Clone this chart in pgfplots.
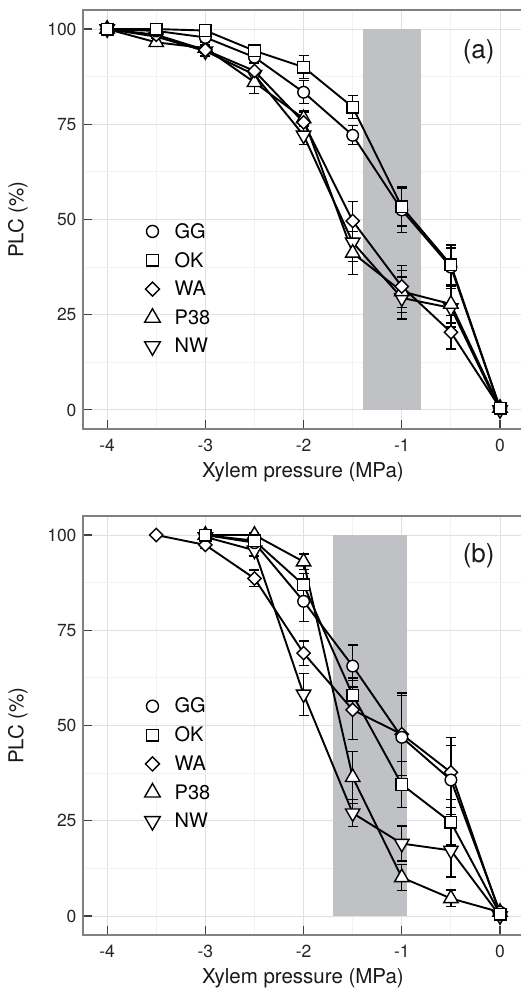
\documentclass[border=0pt]{standalone}
\usepackage{fontspec}
\setmainfont{TeX Gyre Heros}
\usepackage{pgfplots}
\pgfplotsset{compat=1.18}
\usepackage{pgfplotstable}

\definecolor{shade}{RGB}{192,193,196}
\definecolor{axgray}{RGB}{128,128,128}

\pgfplotstableread{
x     GG    GGe  OK    OKe  WA    WAe  P38   P38e NW    NWe
-4    100   0    100   0    100   0    100   0    100   0
-3.5  99.5  0.5  100   0.5  98.5  1    96.5  1    98    1
-3    97.8  1    99.6  0.5  94.5  1.5  95    1.5  94.2  1.5
-2.5  92.6  1.5  94.3  1.5  89    2    86    3    88    3
-2    83.4  3    90    3    75.5  2.5  76.5  2    72.1  2.5
-1.5  72.1  2.5  79.5  3    49.6  5.2  41.2  5.7  44    5
-1    52.5  6    53.3  5    32.4  5.5  31.1  5.5  29.4  5.5
-0.5  37.5  5    38.1  5.2  20.4  4.4  27.8  5    26.8  5
0     0.5   0.5  0.5   0.5  0.5   0.5  0.5   0.5  0     0.5
}\dataA

\pgfplotstableread{
x     GG    GGe  OK    OKe  WA    WAe  P38   P38e NW    NWe
-3.5  nan   nan  nan   nan  100   0    nan   nan  nan   nan
-3    100   0.5  100   0.5  97.4  1    100   0.5  99.5  0.5
-2.5  98    1    98.5  1    88.6  2.2  100   0.5  96    1.5
-2    82.6  5.3  86.9  3    69    3.2  93    2    58.2  5.5
-1.5  65.6  5.5  58    4.5  54.1  7.7  36.4  6.8  27    3.5
-1    46.9  11   34.5  6    47.7  10.8 10.1  3.4  19    4.6
-0.5  35.7  9    24.6  6    37.7  9.2  4.6   2.2  17.2  7
0     1     1    0.5   1    0.5   1    1     1    0     1
}\dataB

\pgfplotsset{
  panel/.style={
    scale only axis, width=440pt, height=419pt,
    xmin=-4.246, xmax=0.234, ymin=-5, ymax=105,
    xtick={-4,-3,-2,-1,0}, ytick={0,25,50,75,100},
    minor xtick={-3.5,-2.5,-1.5,-0.5}, minor ytick={12.5,37.5,62.5,87.5},
    grid=both,
    major grid style={draw=black!12, line width=0.9pt},
    minor grid style={draw=black!5, line width=0.9pt},
    axis line style={draw=axgray, line width=1.2pt},
    major tick style={draw=black!75, line width=1.1pt},
    minor tick length=0pt, major tick length=9pt, tick align=inside,
    xtick pos=bottom, ytick pos=left,
    /pgf/number format/assume math mode=true,
    tick label style={font=\fontsize{17.5}{20}\selectfont, text=black!85},
    yticklabel style={xshift=-3pt},
    xticklabel style={yshift=-7pt},
    label style={font=\fontsize{20.5}{24}\selectfont, text=black!90},
    xlabel={Xylem pressure (MPa)}, ylabel={PLC (\%)},
    xlabel style={at={(axis description cs:0.5,-0.103)}, anchor=center},
    ylabel style={at={(axis description cs:-0.148,0.5)}, anchor=center},
    legend style={draw=none, fill=none, inner sep=0pt,
      font=\fontsize{20}{24}\selectfont, row sep=8.5pt,
      legend cell align=left},
    legend image code/.code={\path (0pt,0pt) (20pt,0pt);\draw[mark repeat=2,mark phase=2,#1] plot coordinates {(-8pt,0pt)(0pt,0pt)(20pt,0pt)};},
    error bars/y dir=both, error bars/y explicit,
    error bars/error mark options={rotate=90, mark size=5pt, line width=1.3pt, black},
    error bars/error bar style={line width=1.3pt, black},
  },
  ser/.style={black, line width=1.9pt, mark size=5.8pt,
    mark options={fill=white, line width=1.4pt, solid}},
  sGG/.style={ser, mark=*},
  sOK/.style={ser, mark=square*},
  sWA/.style={ser, mark=square*, mark size=4.7pt, mark options={fill=white, line width=1.4pt, rotate=45}},
  sP38/.style={ser, mark=triangle*, mark size=8.3pt},
  sNW/.style={ser, mark=triangle*, mark size=8.3pt, mark options={fill=white, line width=1.4pt, rotate=180}},
  lGG/.style={only marks, black, mark=*, mark size=6pt, mark options={fill=white, line width=1.4pt}},
  lOK/.style={only marks, black, mark=square*, mark size=5.8pt, mark options={fill=white, line width=1.4pt}},
  lWA/.style={only marks, black, mark=square*, mark size=5pt, mark options={fill=white, line width=1.4pt, rotate=45}},
  lP38/.style={only marks, black, mark=triangle*, mark size=9pt, mark options={fill=white, line width=1.4pt}},
  lNW/.style={only marks, black, mark=triangle*, mark size=9pt, mark options={fill=white, line width=1.4pt, rotate=180}},
}

\begin{document}
\begin{tikzpicture}
\useasboundingbox (0pt,0pt) rectangle (521pt,990pt);
% panel (a)
\begin{axis}[panel, at={(83pt,561pt)}, anchor=south west,
  legend style={at={(axis cs:-3.62,49.6)}, anchor=north west}]
\addplot[fill=shade, draw=none, forget plot] coordinates {(-1.4,0) (-1.4,100) (-0.8,100) (-0.8,0)};
\addplot[sNW, forget plot] table[x=x, y=NW, y error=NWe] {\dataA};
\addplot[sP38, forget plot] table[x=x, y=P38, y error=P38e] {\dataA};
\addplot[sWA, forget plot] table[x=x, y=WA, y error=WAe] {\dataA};
\addplot[sGG, forget plot] table[x=x, y=GG, y error=GGe] {\dataA};
\addplot[sOK, forget plot] table[x=x, y=OK, y error=OKe] {\dataA};
\addlegendimage{lGG}\addlegendentry{GG}
\addlegendimage{lOK}\addlegendentry{OK}
\addlegendimage{lWA}\addlegendentry{WA}
\addlegendimage{lP38}\addlegendentry{P38}
\addlegendimage{lNW}\addlegendentry{NW}
\node[font=\fontsize{26}{31}\selectfont, text=black!90] at (axis cs:-0.217,93.9) {(a)};
\end{axis}
% panel (b)
\begin{axis}[panel, at={(83pt,55pt)}, anchor=south west,
  legend style={at={(axis cs:-3.62,57.8)}, anchor=north west}]
\addplot[fill=shade, draw=none, forget plot] coordinates {(-1.7,0) (-1.7,100) (-0.95,100) (-0.95,0)};
\addplot[sNW, forget plot] table[x=x, y=NW, y error=NWe] {\dataB};
\addplot[sP38, forget plot] table[x=x, y=P38, y error=P38e] {\dataB};
\addplot[sWA, forget plot] table[x=x, y=WA, y error=WAe] {\dataB};
\addplot[sGG, forget plot] table[x=x, y=GG, y error=GGe] {\dataB};
\addplot[sOK, forget plot] table[x=x, y=OK, y error=OKe] {\dataB};
\addlegendimage{lGG}\addlegendentry{GG}
\addlegendimage{lOK}\addlegendentry{OK}
\addlegendimage{lWA}\addlegendentry{WA}
\addlegendimage{lP38}\addlegendentry{P38}
\addlegendimage{lNW}\addlegendentry{NW}
\node[font=\fontsize{26}{31}\selectfont, text=black!90] at (axis cs:-0.217,94.5) {(b)};
\end{axis}
\end{tikzpicture}
\end{document}
